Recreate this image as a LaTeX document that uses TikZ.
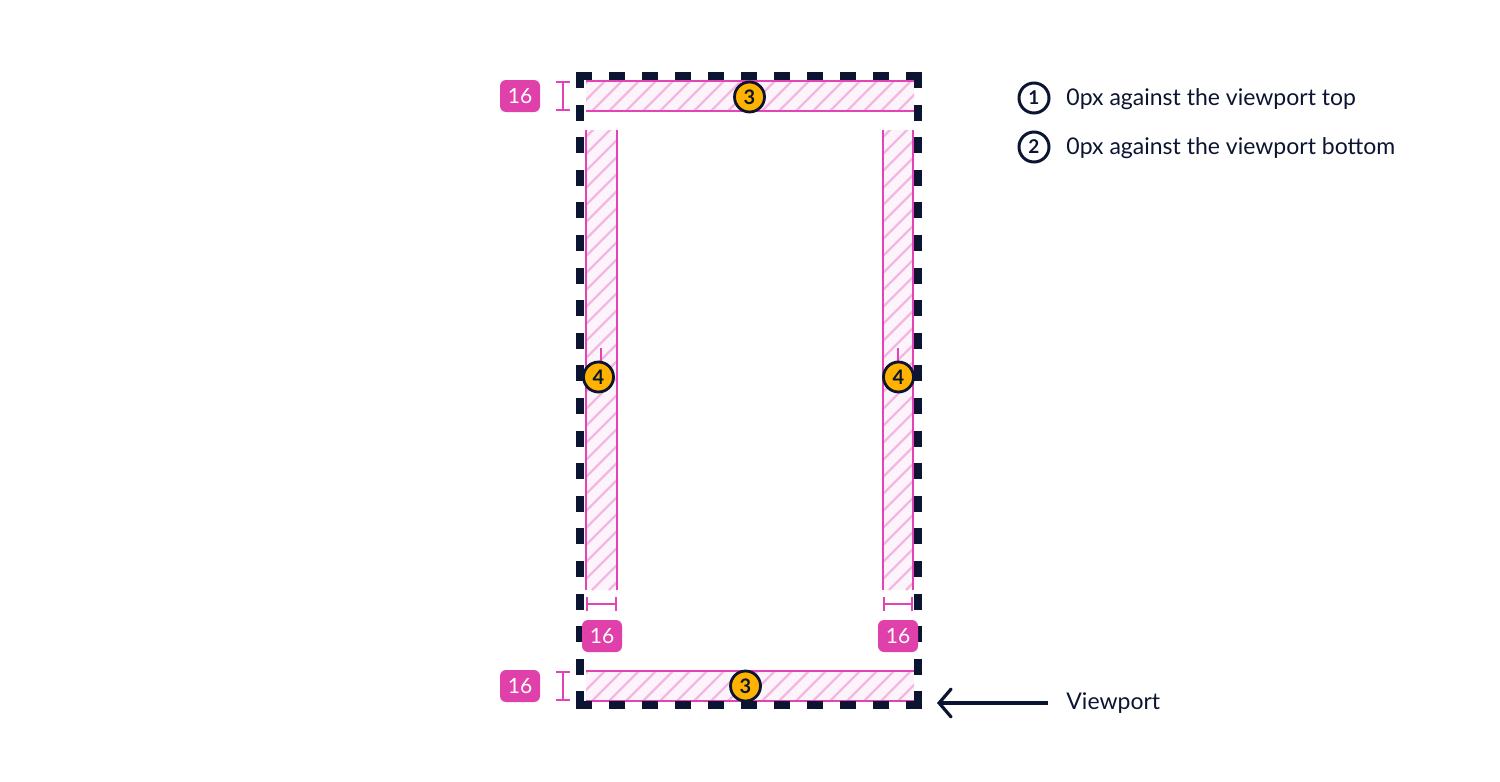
\documentclass[tikz,border=0pt]{standalone}
\usepackage{fontspec}
\setmainfont{Lato}
\usepackage{tikz}
\usetikzlibrary{arrows.meta,positioning}
\definecolor{VpNavy}{HTML}{0B1430}
\definecolor{VpPink}{HTML}{E443B5}
\definecolor{VpBadge}{HTML}{E040A9}
\definecolor{VpHatch}{HTML}{F4B6E2}
\definecolor{VpFill}{HTML}{FDF4FB}
\definecolor{VpYellow}{HTML}{FFB300}

\tikzset{
  vpedge/.style={line width=4pt,VpNavy,line cap=butt},
  bandline/.style={line width=1pt,VpPink},
  hatchline/.style={line width=1.2pt,VpHatch},
  dimline/.style={line width=0.9pt,VpPink,{Bar[width=7pt]}-{Bar[width=7pt]}},
  badge/.style={fill=VpBadge,rounded corners=3pt,text=white,minimum width=20pt,
    minimum height=16pt,inner sep=0pt,font=\fontsize{10.5}{12}\selectfont},
  marker/.style={circle,draw=VpNavy,line width=1.4pt,fill=VpYellow,minimum size=15pt,
    inner sep=0pt,text=VpNavy,font=\bfseries\fontsize{10}{12}\selectfont},
  legendmark/.style={circle,draw=VpNavy,line width=1.5pt,minimum size=15pt,
    inner sep=0pt,text=VpNavy,font=\bfseries\fontsize{9.5}{12}\selectfont},
  legendtext/.style={anchor=west,text=VpNavy,inner sep=0pt,font=\fontsize{11.5}{13}\selectfont},
}

% hatched band: x0 y0 x1 y1
\newcommand{\hatchband}[4]{%
  \begin{scope}
    \clip (#1,#2) rectangle (#3,#4);
    \fill[VpFill] (#1,#2) rectangle (#3,#4);
    \foreach \k in {0,17,...,816}
      \draw[hatchline] (#1+\k-470,#4) -- ++(470,-470);
  \end{scope}}

\begin{document}
\begin{tikzpicture}[x=0.5pt,y=-0.5pt]
\useasboundingbox (0,0) rectangle (1500,782);

% bands
\hatchband{586}{81}{914}{111}
\draw[bandline] (586,81) -- (914,81) (586,111) -- (914,111);
\hatchband{586}{671}{914}{701}
\draw[bandline] (586,671) -- (914,671) (586,701) -- (914,701);
\hatchband{586}{130}{617}{590}
\draw[bandline] (586,130) -- (586,590) (617,130) -- (617,590);
\hatchband{883}{130}{913}{590}
\draw[bandline] (883,130) -- (883,590) (913,130) -- (913,590);

% viewport edge
\draw[vpedge,dash pattern=on 8pt off 8.5pt] (576,75.5) -- (922,75.5);
\draw[vpedge,dash pattern=on 8pt off 8.5pt] (576,704.5) -- (922,704.5);
\draw[vpedge,dash pattern=on 8pt off 8.3pt] (580,72) -- (580,708);
\draw[vpedge,dash pattern=on 8pt off 8.3pt] (918,72) -- (918,708);

% dimensions
\draw[dimline] (563,81) -- (563,111);
\draw[dimline] (563,671) -- (563,701);
\draw[dimline] (586,604) -- (617,604);
\draw[dimline] (883,604) -- (913,604);
\draw[bandline] (601,348) -- (601,362);
\draw[bandline] (898,348) -- (898,362);

\node[badge] (topsize) at (520,96) {16};
\node[badge] (botsize) at (520,686) {16};
\node[badge] (leftsize) at (602,636) {16};
\node[badge] (rightsize) at (898,636) {16};

% markers
\node[marker] (topband) at (749.5,97) {3};
\node[marker] (botband) at (745.5,686) {3};
\node[marker] (leftcol) at (598.5,377) {4};
\node[marker] (rightcol) at (898.5,377) {4};

% legend
\node[legendmark] (one) at (1034,98) {1};
\node[legendtext] (onetext) at (1066,99) {0px against the viewport top};
\node[legendmark] (two) at (1034,147) {2};
\node[legendtext] (twotext) at (1066,148) {0px against the viewport bottom};

\node[legendtext] (vplabel) at (1066,703) {Viewport};
\coordinate (vptip) at (937,703);
\draw[line width=1.6pt,VpNavy,-{Straight Barb[length=6pt,width=14pt,line cap=round]}]
  (vplabel.west) ++(-9pt,0) -- (vptip);
\end{tikzpicture}
\end{document}
